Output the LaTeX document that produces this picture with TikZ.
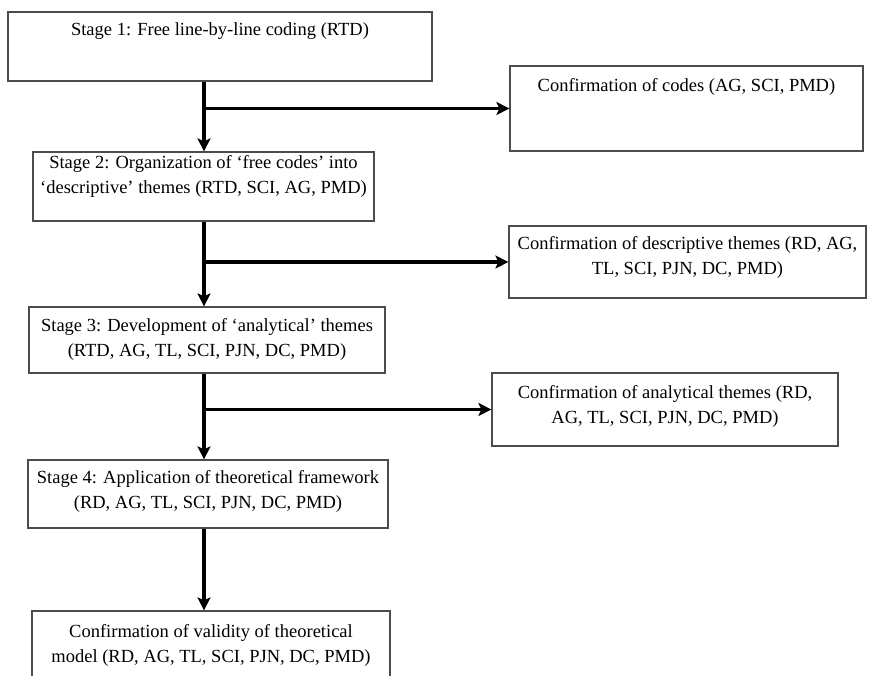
\documentclass[tikz,border=0pt]{standalone}
\usepackage{fontspec}
\setmainfont{Liberation Serif}
\usetikzlibrary{arrows.meta}

\tikzset{
	box/.style={draw=black!70, line width=1.2pt, inner sep=0pt},
	boxtext/.style={anchor=north, align=center, inner sep=0pt, font=\fontsize{18.5}{25}\selectfont},
	flow/.style={-{Stealth[length=13pt,width=13pt,inset=3pt]}, line width=3.6pt}
}

\begin{document}
\begin{tikzpicture}[x=1pt, y=-1pt]
			\useasboundingbox (0,0) rectangle (870,675);
			\clip (0,0) rectangle (870,675);

			\coordinate (spine) at (204,0);

			% stages
			\node[box, minimum width=424, minimum height=69] (s1) at (220,46.5) {};
			\node[box, minimum width=341, minimum height=69] (s2) at (203.5,186.5) {};
			\node[box, minimum width=356, minimum height=66] (s3) at (207,340) {};
			\node[box, minimum width=360, minimum height=68] (s4) at (208,494) {};
			\node[box, minimum width=358, minimum height=80] (s5) at (211,651) {};

			% confirmations
			\node[box, minimum width=353, minimum height=85] (c1) at (686.5,108.5) {};
			\node[box, minimum width=357, minimum height=72] (c2) at (687.5,262) {};
			\node[box, minimum width=346, minimum height=73] (c3) at (665,409.5) {};

			\node[boxtext, yshift=-11pt] (s1t) at (s1.north) {Stage 1: Free line-by-line coding (RTD)};
			\node[boxtext, yshift=-4pt] (s2t) at (s2.north) {Stage 2: Organization of `free codes' into\\`descriptive' themes (RTD, SCI, AG, PMD)};
			\node[boxtext, yshift=-12pt] (s3t) at (s3.north) {Stage 3: Development of `analytical' themes\\(RTD, AG, TL, SCI, PJN, DC, PMD)};
			\node[boxtext, yshift=-11pt] (s4t) at (s4.north) {Stage 4: Application of theoretical framework\\(RD, AG, TL, SCI, PJN, DC, PMD)};
			\node[boxtext, yshift=-14pt] (s5t) at (s5.north) {Confirmation of validity of theoretical\\model (RD, AG, TL, SCI, PJN, DC, PMD)};

			\node[boxtext, yshift=-13pt] (c1t) at (c1.north) {Confirmation of codes (AG, SCI, PMD)};
			\node[boxtext, yshift=-11pt] (c2t) at (c2.north) {Confirmation of descriptive themes (RD, AG,\\TL, SCI, PJN, DC, PMD)};
			\node[boxtext, yshift=-13pt] (c3t) at (c3.north) {Confirmation of analytical themes (RD,\\AG, TL, SCI, PJN, DC, PMD)};

			% arrows
			\begin{scope}[flow]
				\draw (s1.south -| spine) -- (s2.north -| spine);
				\draw (s2.south -| spine) -- (s3.north -| spine);
				\draw (s3.south -| spine) -- (s4.north -| spine);
				\draw (s4.south -| spine) -- (s5.north -| spine);

				\draw (c1.west -| spine) -- (c1.west);
				\draw (c2.west -| spine) -- (c2.west);
				\draw (c3.west -| spine) -- (c3.west);
			\end{scope}
		\end{tikzpicture}
\end{document}
